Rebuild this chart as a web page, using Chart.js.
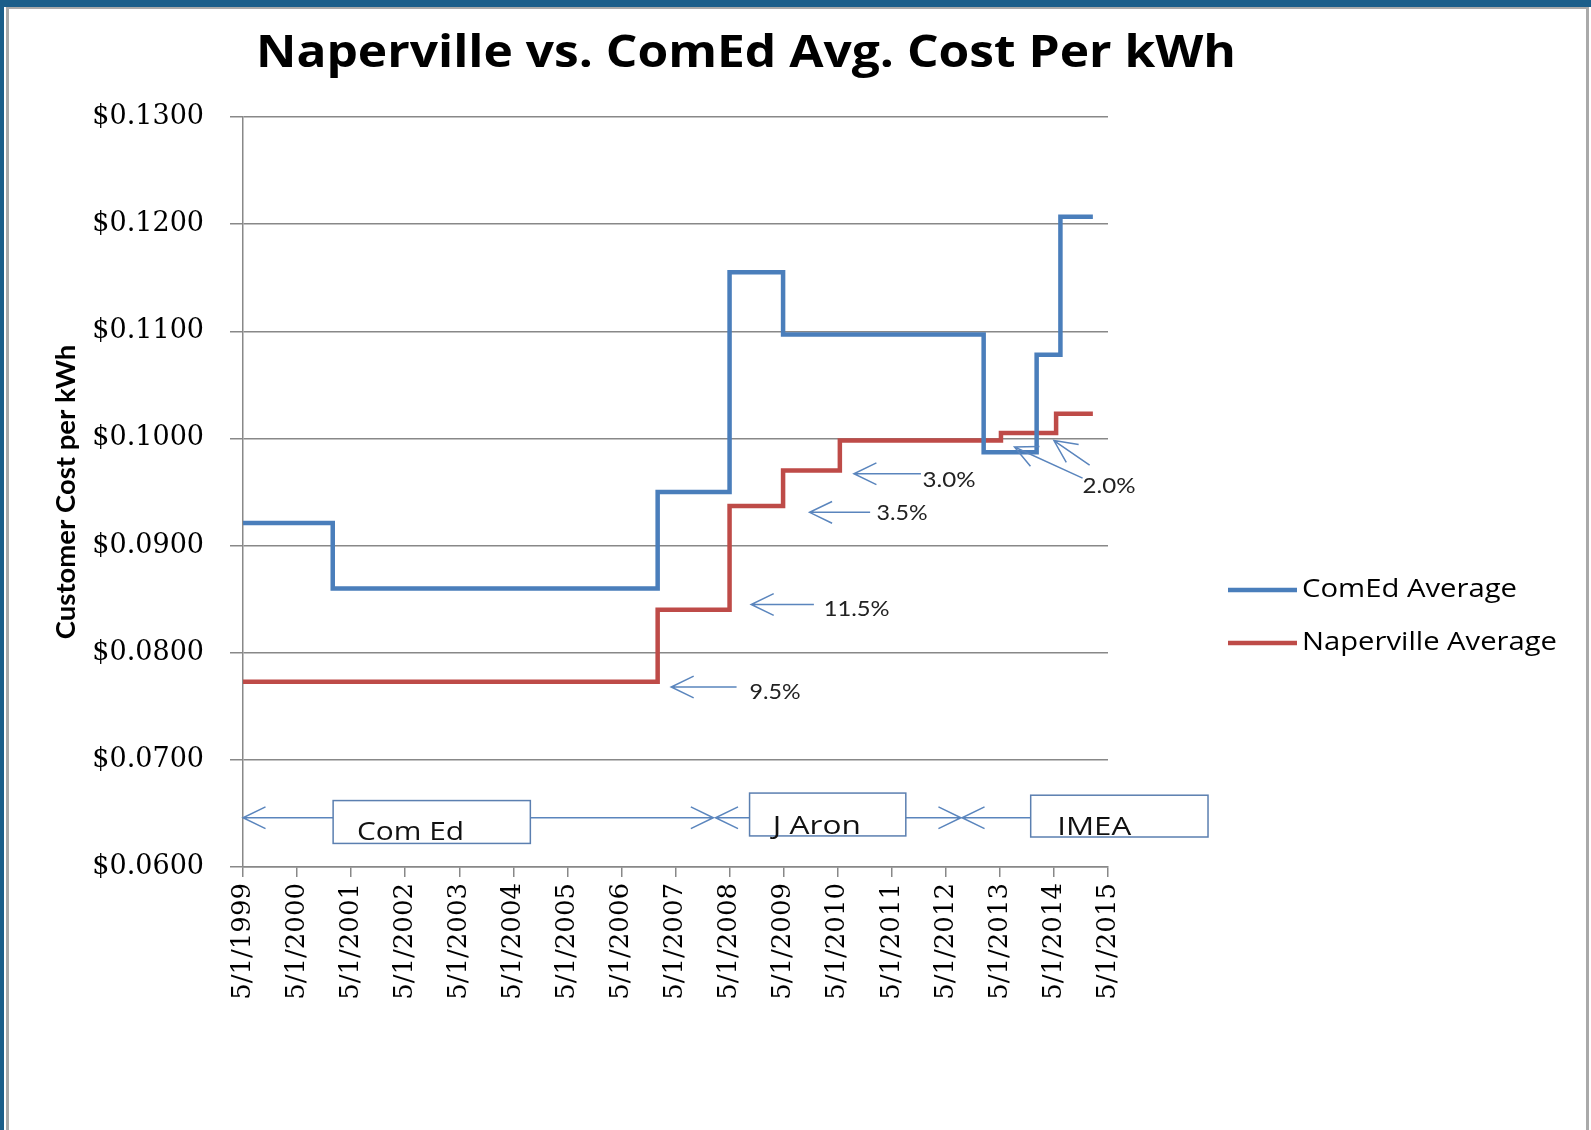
<!DOCTYPE html>
<html>
<head>
<meta charset="utf-8">
<script src="https://cdn.jsdelivr.net/npm/chart.js@4.4.1/dist/chart.umd.min.js"></script>
<style>
  body { margin: 0; background: #1b5e8a; width: 1591px; height: 1130px; overflow: hidden; position: relative; }
  #frame { position: absolute; left: 4px; top: 7px; right: 0; bottom: 0; background: #fff; }
  #inner { position: absolute; left: 2px; top: 0; right: 2px; bottom: -10px; border-left: 3px solid #aaa; border-top: 2px solid #aaa; border-right: 3px solid #aaa; }
  #chart { position: absolute; left: 0; top: 0; }
</style>
</head>
<body>
<div id="frame"><div id="inner"></div></div>
<canvas id="chart" width="1591" height="1130"></canvas>
<script>
// x values are years after 5/1/1999
const xTickLabels = ['5/1/1999', '5/1/2000', '5/1/2001', '5/1/2002', '5/1/2003', '5/1/2004', '5/1/2005', '5/1/2006',
    '5/1/2007', '5/1/2008', '5/1/2009', '5/1/2010', '5/1/2011', '5/1/2012', '5/1/2013', '5/1/2014', '5/1/2015']

const comedStart = [0, 1.66, 7.67, 9.0, 9.99, 13.70, 14.68, 15.12, 15.72]
const comedCost = [0.0921, 0.0860, 0.0950, 0.1155, 0.1097, 0.0987, 0.1078, 0.1207, 0.1207]

const napervilleStart = [0, 7.67, 9.0, 9.99, 11.04, 14.02, 15.04, 15.72]
const napervilleCost = [0.0773, 0.0840, 0.0937, 0.0970, 0.0998, 0.1005, 0.1023, 0.1023]

// rate increase call-outs: arrow tail -> tip, text anchor (data units)
const pctLabels = ['9.5%', '11.5%', '3.5%', '3.0%', '2.0%']
const pctText = [[9.37, 0.0763], [10.74, 0.0841], [11.72, 0.0930], [12.57, 0.0961], [15.53, 0.0955]]
const pctArrows = [
    [9.13, 0.0768, 7.92, 0.0768],
    [10.56, 0.0845, 9.40, 0.0845],
    [11.60, 0.0931, 10.48, 0.0931],
    [12.54, 0.0967, 11.30, 0.0967],
    [15.53, 0.0963, 14.27, 0.0992],
    [15.66, 0.0975, 15.0, 0.0998]
]

// supplier periods along the bottom
const supplierNames = ['Com Ed', 'J Aron', 'IMEA']
const supplierBoxes = [[1.667, 5.315, 0.0662, 0.0622], [9.37, 12.26, 0.0669, 0.0629], [14.57, 17.85, 0.0667, 0.0628]]
const supplierText = [[2.11, 0.0625], [9.80, 0.06305], [15.06, 0.0630]]
const supplierLineY = 0.0646
const supplierArrows = [[1.667, 0], [5.315, 8.70], [9.37, 8.74], [12.26, 13.28], [14.57, 13.30]]

const BLUE = '#4a7ebb'
const RED = '#be4b48'
const NOTE = '#5a85bd'
const SANS = 'Lato, "Open Sans", sans-serif'
const WIDE = '"Open Sans", Lato, sans-serif'
const SERIF = '"DejaVu Serif", serif'

function toPoints(xs, ys) {
    return xs.map((x, i) => ({ x: x, y: ys[i] }))
}

// the screenshot's text is stretched sideways, so widen glyphs to the width seen there
function wideText(ctx, text, x, y, width) {
    const w = ctx.measureText(text).width
    ctx.save()
    ctx.translate(x, y)
    ctx.scale(width / w, 1)
    ctx.fillText(text, 0, 0)
    ctx.restore()
}

function drawArrow(ctx, x1, y1, x2, y2) {
    const a = Math.atan2(y2 - y1, x2 - x1)
    const len = 25, spread = 0.45
    ctx.beginPath()
    ctx.moveTo(x1, y1)
    ctx.lineTo(x2, y2)
    ctx.moveTo(x2 - len * Math.cos(a - spread), y2 - len * Math.sin(a - spread))
    ctx.lineTo(x2, y2)
    ctx.lineTo(x2 - len * Math.cos(a + spread), y2 - len * Math.sin(a + spread))
    ctx.stroke()
}

const pctWidths = [51, 66, 51, 53, 53]
const supplierWidths = [107, 88, 74]
const legendWidths = [215, 255]

const extras = {
    id: 'extras',
    afterDatasetsDraw(chart) {
        const ctx = chart.ctx
        const xs = chart.scales.x, ys = chart.scales.y
        const px = v => xs.getPixelForValue(v)
        const py = v => ys.getPixelForValue(v)
        ctx.save()
        ctx.strokeStyle = NOTE
        ctx.lineWidth = 1.5
        for (const a of pctArrows) {
            drawArrow(ctx, px(a[0]), py(a[1]), px(a[2]), py(a[3]))
        }
        ctx.fillStyle = '#222'
        ctx.font = '21px ' + SANS
        ctx.textBaseline = 'middle'
        pctLabels.forEach((t, i) => wideText(ctx, t, px(pctText[i][0]), py(pctText[i][1]), pctWidths[i]))

        // supplier arrows and boxes
        const ly = py(supplierLineY)
        for (const a of supplierArrows) {
            drawArrow(ctx, px(a[0]), ly, px(a[1]), ly)
        }
        ctx.font = '26px ' + WIDE
        ctx.textBaseline = 'alphabetic'
        supplierBoxes.forEach((b, i) => {
            const x0 = px(b[0]), x1 = px(b[1]), y0 = py(b[2]), y1 = py(b[3])
            ctx.fillStyle = '#fff'
            ctx.fillRect(x0, y0, x1 - x0, y1 - y0)
            ctx.strokeStyle = '#5b7fb0'
            ctx.strokeRect(x0, y0, x1 - x0, y1 - y0)
            ctx.fillStyle = '#111'
            wideText(ctx, supplierNames[i], px(supplierText[i][0]), py(supplierText[i][1]), supplierWidths[i])
        })
        ctx.restore()
    },
    afterDraw(chart) {
        const ctx = chart.ctx
        ctx.save()
        // title
        ctx.fillStyle = '#000'
        ctx.font = 'bold 45px ' + WIDE
        ctx.textAlign = 'left'
        ctx.textBaseline = 'alphabetic'
        wideText(ctx, 'Naperville vs. ComEd Avg. Cost Per kWh', 256, 67, 980)
        // legend
        ctx.textBaseline = 'middle'
        ctx.font = '26px ' + WIDE
        chart.data.datasets.forEach((ds, i) => {
            const y = 590 + i * 53
            ctx.strokeStyle = ds.borderColor
            ctx.lineWidth = 4.5
            ctx.beginPath()
            ctx.moveTo(1228, y)
            ctx.lineTo(1297, y)
            ctx.stroke()
            ctx.fillStyle = '#000'
            wideText(ctx, ds.label, 1302, y, legendWidths[i])
        })
        ctx.restore()
    }
}

new Chart(document.getElementById('chart'), {
    type: 'line',
    data: {
        datasets: [
            {
                label: 'ComEd Average',
                data: toPoints(comedStart, comedCost),
                borderColor: BLUE,
                borderWidth: 4.5,
                stepped: 'before',
                pointRadius: 0,
                borderJoinStyle: 'miter',
                fill: false
            },
            {
                label: 'Naperville Average',
                data: toPoints(napervilleStart, napervilleCost),
                borderColor: RED,
                borderWidth: 4.5,
                stepped: 'before',
                pointRadius: 0,
                borderJoinStyle: 'miter',
                fill: false
            }
        ]
    },
    options: {
        responsive: false,
        animation: false,
        layout: { padding: { top: 117, right: 483, left: 0, bottom: 0 } },
        plugins: {
            legend: { display: false },
            title: { display: false },
            tooltip: { enabled: false }
        },
        scales: {
            x: {
                type: 'linear',
                min: 0,
                max: 16,
                ticks: {
                    stepSize: 1,
                    autoSkip: false,
                    minRotation: 90,
                    maxRotation: 90,
                    padding: 6,
                    color: '#000',
                    font: { family: SERIF, size: 26 },
                    callback: v => xTickLabels[v]
                },
                grid: { drawOnChartArea: false, tickLength: 10, color: '#888', lineWidth: 1.5 },
                border: { color: '#888', width: 1.5 },
                afterFit: s => { s.height = 263 }
            },
            y: {
                min: 0.06,
                max: 0.13,
                ticks: {
                    stepSize: 0.01,
                    padding: 26,
                    color: '#000',
                    font: { family: SERIF, size: 27 },
                    callback: v => '$' + v.toFixed(4)
                },
                grid: { color: '#888', lineWidth: 1.5, tickLength: 13 },
                border: { color: '#888', width: 1.5 },
                title: {
                    display: true,
                    text: 'Customer Cost per kWh',
                    color: '#000',
                    font: { family: SANS, size: 27.5, weight: 'bold' },
                    padding: { top: 50, bottom: 0 }
                },
                afterFit: s => { s.width = 243 }
            }
        }
    },
    plugins: [extras]
});
</script>
</body>
</html>
